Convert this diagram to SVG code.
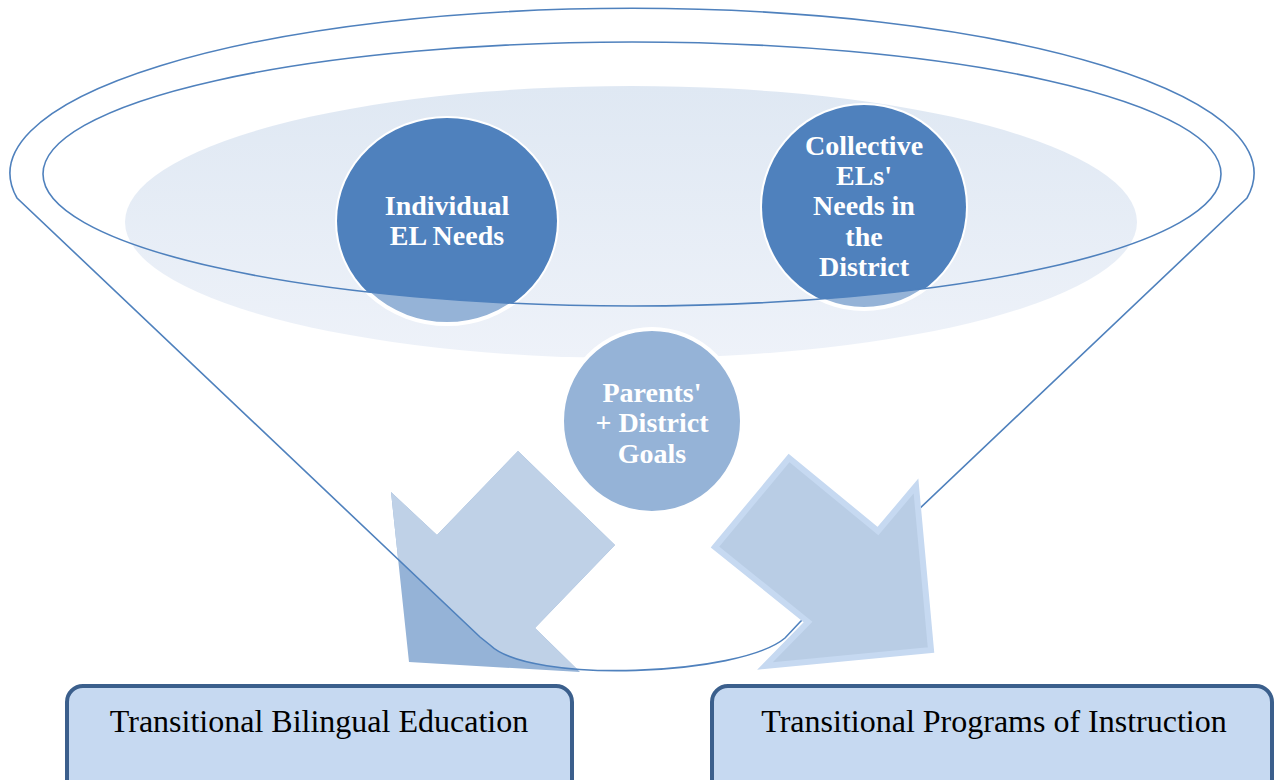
<svg xmlns="http://www.w3.org/2000/svg" width="1274" height="780" viewBox="0 0 1274 780">
<style>
.ln{fill:none;stroke:#4f81bd;stroke-width:1.6}
.ct{font-family:"Liberation Serif","Times New Roman",serif;font-weight:bold;font-size:28px;fill:#ffffff;text-anchor:middle}
.bt{font-family:"Liberation Serif","Times New Roman",serif;font-size:32px;fill:#000000;text-anchor:middle}
.box{fill:#c6d9f1;stroke:#3b5f8c;stroke-width:4}
.ring{stroke:#ffffff;stroke-width:4}
</style>
<defs>
<linearGradient id="lg" x1="0" y1="0" x2="0" y2="1">
<stop offset="0" stop-color="#dfe8f3"/>
<stop offset="1" stop-color="#eef2f9"/>
</linearGradient>
<clipPath id="funnelClip"><path d="M17,198 A622,165 0 1 1 1247,198 L800,622 L785,638 C740,676 530,684 490,645 L480,637 Z"/></clipPath>
<clipPath id="innerClip"><ellipse cx="632" cy="174" rx="589" ry="132"/></clipPath>
</defs>
<rect width="1274" height="780" fill="#ffffff"/>
<ellipse cx="631" cy="222" rx="506" ry="136" fill="url(#lg)"/>
<g id="arrow-left">
<polygon points="391,492 437,535 518,451 615,545 535,628 580,672 409,662" fill="#95b3d7"/>
<polygon points="391,492 437,535 518,451 615,545 535,628 580,672 409,662" fill="#bfd1e7" clip-path="url(#funnelClip)"/>
</g>
<g id="node-individual">
<ellipse cx="447" cy="221" rx="110" ry="103" fill="#95b3d7" class="ring"/>
<ellipse cx="447" cy="221" rx="110" ry="103" fill="#4f81bd" clip-path="url(#innerClip)"/>
</g>
<g id="node-collective">
<ellipse cx="864" cy="207" rx="102" ry="102" fill="#95b3d7" class="ring"/>
<ellipse cx="864" cy="207" rx="102" ry="102" fill="#4f81bd" clip-path="url(#innerClip)"/>
</g>
<g id="node-parents">
<ellipse cx="652" cy="421" rx="90" ry="92" fill="#95b3d7" class="ring"/>
</g>
<g id="connectors">
<path class="ln" d="M17,198 A622,165 0 1 1 1247,198 L800,622 L785,638 C740,676 530,684 490,645 L480,637 Z"/>
<ellipse class="ln" cx="632" cy="174" rx="589" ry="132"/>
</g>
<g id="arrow-right">
<polygon points="715,547 789,458 878,531 916,486 931,650 765,666 808,622" fill="#b9cde5" stroke="#c6d9f1" stroke-width="6" stroke-linejoin="miter"/>
</g>
<g id="labels-circles">
<text class="ct" x="447" y="215">Individual</text>
<text class="ct" x="447" y="245">EL Needs</text>
<text class="ct" x="864" y="155">Collective</text>
<text class="ct" x="864" y="185">ELs'</text>
<text class="ct" x="864" y="215">Needs in</text>
<text class="ct" x="864" y="246">the</text>
<text class="ct" x="864" y="276">District</text>
<text class="ct" x="652" y="402">Parents'</text>
<text class="ct" x="652" y="432">+ District</text>
<text class="ct" x="652" y="463">Goals</text>
</g>
<g id="node-tbe">
<rect class="box" x="67" y="686" width="505" height="120" rx="16"/>
<text class="bt" x="319" y="732">Transitional Bilingual Education</text>
</g>
<g id="node-tpi">
<rect class="box" x="712" y="686" width="560" height="120" rx="16"/>
<text class="bt" x="994" y="732">Transitional Programs of Instruction</text>
</g>
</svg>
